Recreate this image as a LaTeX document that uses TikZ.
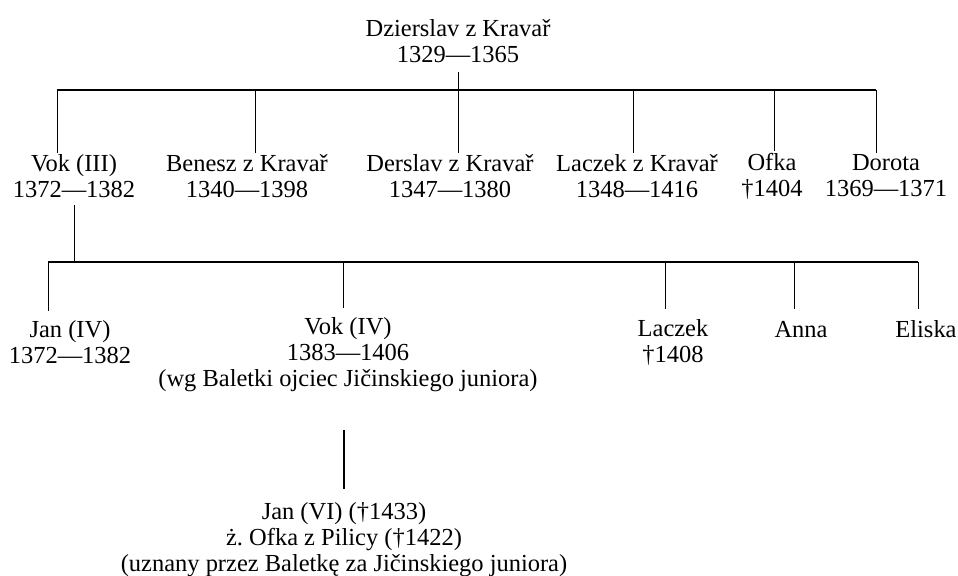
\documentclass[tikz,border=0pt]{standalone}
\usepackage{fontspec}
\setmainfont{Liberation Serif}
\usetikzlibrary{positioning}

\begin{document}
\begin{tikzpicture}
		[
			x=0.025cm,
			y=-0.025cm,
			align=center,
			font=\fontsize{17.4}{18.5}\selectfont,
			person/.style={draw=none,fill=none,inner sep=1pt},
			single/.style={person, text height=13pt, text depth=4pt},
			bar/.style={line width=0.9pt},
			link/.style={line width=0.6pt},
			stem/.style={line width=1.3pt, shorten <=0.9cm, shorten >=0.3cm}
		]
		\useasboundingbox (0,0) rectangle (958,576);

		% first generation
		\node[person] (dzierslav) at ( 458,  41 ) {Dzierslav z Kravař\\1329—1365};

		% second generation
		\node[person] (vok3)    at (  74, 176 ) {Vok (III)\\1372—1382};
		\node[person] (benesz)  at ( 247, 176 ) {Benesz z Kravař\\1340—1398};
		\node[person] (derslav) at ( 450, 176 ) {Derslav z Kravař\\1347—1380};
		\node[person] (laczek)  at ( 637, 176 ) {Laczek z Kravař\\1348—1416};
		\node[person] (ofka)    at ( 772, 176 ) {Ofka\\†1404};
		\node[person] (dorota)  at ( 886, 176 ) {Dorota\\1369—1371};

		% third generation
		\node[person] (jan4)    at (  70, 342 ) {Jan (IV)\\1372—1382};
		\node[person] (vok4)    at ( 348, 355 ) {Vok (IV)\\1383—1406\\(wg Baletki ojciec Jičinskiego juniora)};
		\node[person] (laczek2) at ( 673, 342 ) {Laczek\\†1408};
		\node[single] (anna)    at ( 801, 331 ) {Anna};
		\node[single] (eliska)  at ( 926, 331 ) {Eliska};

		% fourth generation
		\node[person] (jan6)    at ( 344, 540 ) {Jan (VI) (†1433)\\ż.\ Ofka z Pilicy (†1422)\\(uznany przez Baletkę za Jičinskiego juniora)};

		% bars
		\coordinate (bar1w) at (  57,  90 );
		\coordinate (bar1e) at ( 876,  90 );
		\coordinate (bar2w) at (  48, 262 );
		\coordinate (bar2e) at ( 918, 262 );
		\draw[bar] (bar1w) -- (bar1e);
		\draw[bar] (bar2w) -- (bar2e);

		% descent lines (drop offset in px)
		\draw[link, shorten <=0.2cm] (dzierslav.south) -- (dzierslav.south |- bar1w);
		\foreach \who/\dx in {vok3/-17, benesz/8, derslav/8, laczek/-4, ofka/2, dorota/-10}
		\draw[link] ([xshift=\dx*0.025cm]\who.north |- bar1w) -- ([xshift=\dx*0.025cm]\who.north);
		\draw[link, shorten <=0.15cm] (vok3.south) -- (vok3.south |- bar2w);
		\foreach \who/\dx in {jan4/-22, vok4/-5, laczek2/-8, anna/-7, eliska/-8}
		\draw[link, shorten >=0.2cm] ([xshift=\dx*0.025cm]\who.north |- bar2w) -- ([xshift=\dx*0.025cm]\who.north);
		\draw[stem] (jan6.north |- vok4.south) -- (jan6.north);

	\end{tikzpicture}
\end{document}
